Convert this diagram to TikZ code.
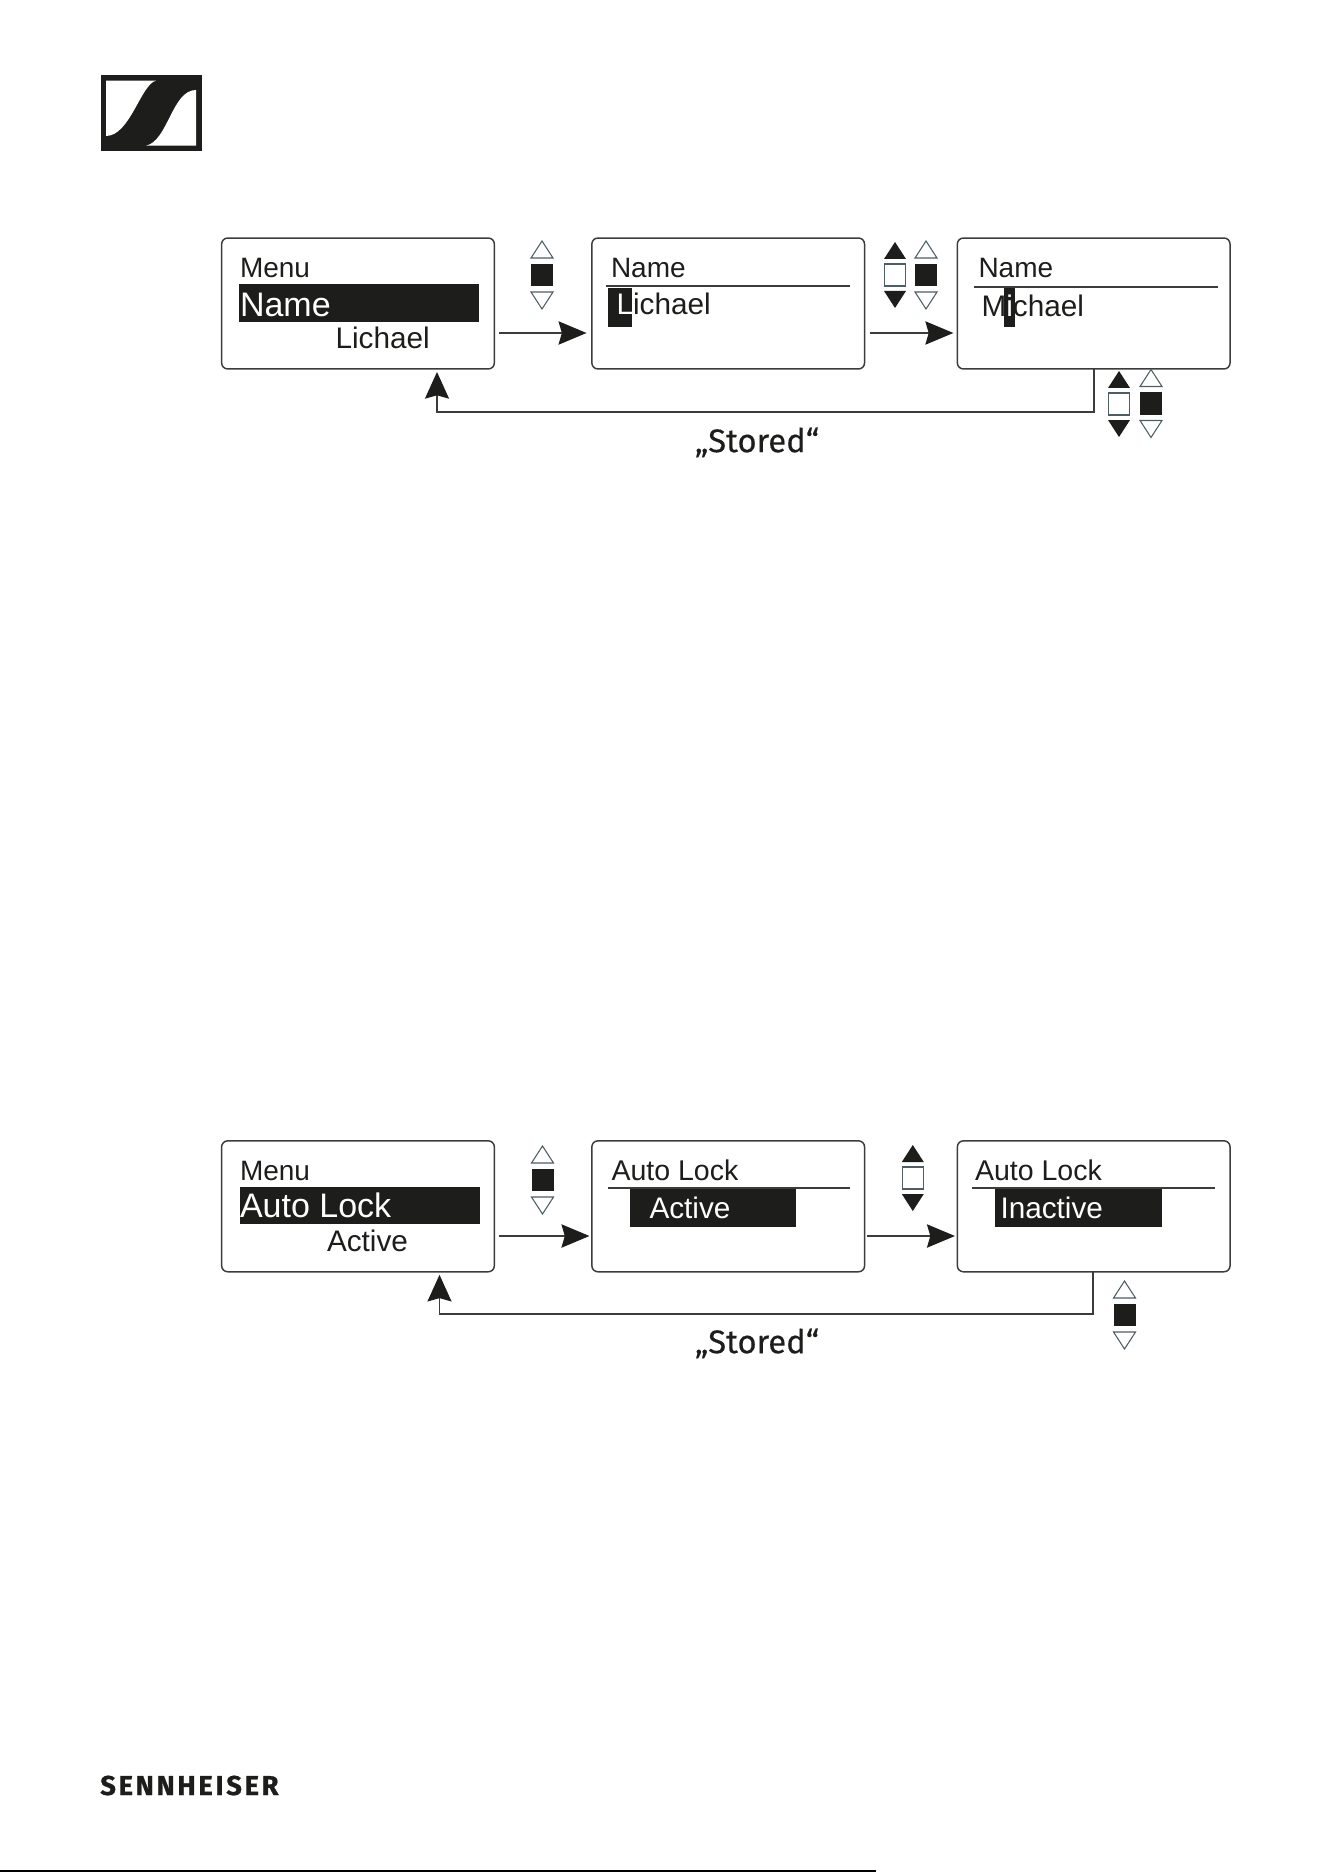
\documentclass[tikz,border=0pt]{standalone}
\usepackage{fontspec}
\usetikzlibrary{calc,arrows.meta}
\setmainfont{Liberation Sans}
\newfontfamily\brandfont[LetterSpace=10,FakeBold=0.8]{Fira Sans}
\newfontfamily\storedfont[FakeBold=0.3]{Fira Sans}
\definecolor{ink}{HTML}{1D1D1B}
\definecolor{wire}{HTML}{3C3C3B}
\definecolor{edgeblue}{HTML}{4F5E64}
\newcommand{\pxfont}[1]{\fontsize{#1}{#1}\selectfont}
\tikzset{
  x=0.75pt,y=-0.75pt,
  screen/.style={draw=wire,line width=1.1pt,rounded corners=4.5pt,fill=white,minimum width=204.5pt,minimum height=98.2pt,inner sep=0pt,outer sep=0pt},
  label/.style={anchor=base west,inner sep=0pt,outer sep=0pt,text=ink,font=\pxfont{21pt}},
  vallabel/.style={label,font=\pxfont{22.3pt}},
  biglabel/.style={label,font=\pxfont{25.5pt}},
  invlabel/.style={vallabel,text=white},
  bar/.style={fill=ink,draw=none},
  rulex/.style={draw=wire,line width=1.3pt},
  conn/.style={draw=wire,line width=1.15pt},
  flow/.style={conn,-{Stealth[length=21pt,width=17.5pt,inset=2.5pt,fill=ink,color=ink]}},
  back/.style={conn,-{Stealth[length=20pt,width=18pt,inset=2.5pt,fill=ink,color=ink]}},
  storedlabel/.style={anchor=base,inner sep=0pt,outer sep=0pt,text=ink,font=\storedfont\pxfont{24.6pt}},
  selectgroup/.pic={
    \draw[draw=edgeblue,line width=0.8pt,fill=white] (-11,-17)--(11,-17)--(0,-34)--cycle;
    \fill[ink] (-11,-11) rectangle (11,11);
    \draw[draw=edgeblue,line width=0.8pt,fill=white] (-11,17)--(11,17)--(0,34)--cycle;
  },
  pressgroup/.pic={
    \fill[ink] (-11,-16)--(11,-16)--(0,-33)--cycle;
    \draw[draw=edgeblue,line width=0.8pt,fill=white] (-10.5,-11) rectangle (10.5,11);
    \fill[ink] (-11,16)--(11,16)--(0,33)--cycle;
  },
}
\begin{document}
\begin{tikzpicture}
\useasboundingbox (0,0) rectangle (1324,1872);
\fill[white] (0,0) rectangle (1324,1872);
% logo
\fill[ink] (100.7,75) rectangle (201.7,150.7);
\fill[white] (106,80.7)--(156,80.7).. controls (141,84) and (130,136) .. (106,136)--cycle;
\fill[white] (196,90).. controls (172,90) and (168,141) .. (146,145.7)--(196,145.7)--cycle;
\node[anchor=base west,inner sep=0pt,text=ink,font=\brandfont\bfseries\pxfont{20.5pt}] (brand) at (100,1795) {SENNHEISER};
\fill[black] (0,1870.4) rectangle (876,1872);
% ---------- top row
\node[screen] (a1) at (358,303.5) {};
\node[screen] (a2) at (728.2,303.5) {};
\node[screen] (a3) at (1093.7,303.5) {};
\node[label] (a1t) at (240,278) {Menu};
\fill[bar] (239,284) rectangle (479,322);
\node[biglabel,text=white] (a1n) at (240,317) {Name};
\node[vallabel] (a1v) at (335.5,349) {Lichael};
\node[label] (a2t) at (611,278) {Name};
\draw[rulex] (606,286)--(850,286);
\fill[bar] (607.5,288) rectangle (632,327);
\node[vallabel] (a2v) at (616.5,315) {\textcolor{white}{L}ichael};
\node[label] (a3t) at (978.5,278) {Name};
\draw[rulex] (974,287)--(1218,287);
\fill[bar] (1004,288) rectangle (1015,327);
\node[vallabel] (a3v) at (981.5,317) {M\textcolor{white}{i}chael};
\path (542,275) pic {selectgroup};
\path (895,275) pic {pressgroup};
\path (926,275) pic {selectgroup};
\path (1119,404) pic {pressgroup};
\path (1151,403.5) pic {selectgroup};
\draw[flow,shorten <=3.6pt,shorten >=4pt] ($(a1.east)+(0,29.5)$) -- ($(a2.west)+(0,29.5)$);
\draw[flow,shorten <=4pt,shorten >=3pt] ($(a2.east)+(0,29.5)$) -- ($(a3.west)+(0,29.5)$);
\coordinate (a3out) at ($(a3.south)+(0.5,0)$);
\coordinate (a1in) at ($(a1.south)+(79,3)$);
\draw[back] (a3out) -- (a3out |- 0,412) -- (a1in |- 0,412) -- (a1in);
\node[storedlabel] (a4) at (757,452.2) {„Stored“};
% ---------- bottom row
\node[screen] (b1) at (358,1206.3) {};
\node[screen] (b2) at (728.2,1206.3) {};
\node[screen] (b3) at (1093.7,1206.3) {};
\node[label] (b1t) at (240,1180.7) {Menu};
\fill[bar] (239.5,1187) rectangle (479.5,1224);
\node[biglabel,text=white] (b1n) at (240,1217) {Auto Lock};
\node[vallabel] (b1v) at (327,1251) {Active};
\node[label,font=\pxfont{21.4pt}] (b2t) at (611.5,1180.7) {Auto Lock};
\fill[bar] (630,1188) rectangle (795.8,1226.7);
\draw[rulex] (607.8,1188)--(849.8,1188);
\node[invlabel] (b2v) at (649.5,1218.3) {Active};
\node[label,font=\pxfont{21.4pt}] (b3t) at (975,1180.7) {Auto Lock};
\fill[bar] (994.5,1188) rectangle (1162,1226.7);
\draw[rulex] (972,1188)--(1215,1188);
\node[invlabel] (b3v) at (1000.5,1218.3) {Inactive};
\path (542.5,1180) pic {selectgroup};
\path (912.8,1178) pic {pressgroup};
\path (1124.5,1315) pic {selectgroup};
\draw[flow,shorten <=3.6pt,shorten >=1.8pt] ($(b1.east)+(0,29.7)$) -- ($(b2.west)+(0,29.7)$);
\draw[flow,shorten <=1.7pt,shorten >=1.8pt] ($(b2.east)+(0,29.7)$) -- ($(b3.west)+(0,29.7)$);
\coordinate (b3out) at ($(b3.south)+(-0.9,0)$);
\coordinate (b1in) at ($(b1.south)+(81.5,3)$);
\draw[back] (b3out) -- (b3out |- 0,1314) -- (b1in |- 0,1314) -- (b1in);
\node[storedlabel] (b4) at (757,1353.2) {„Stored“};
\end{tikzpicture}
\end{document}
